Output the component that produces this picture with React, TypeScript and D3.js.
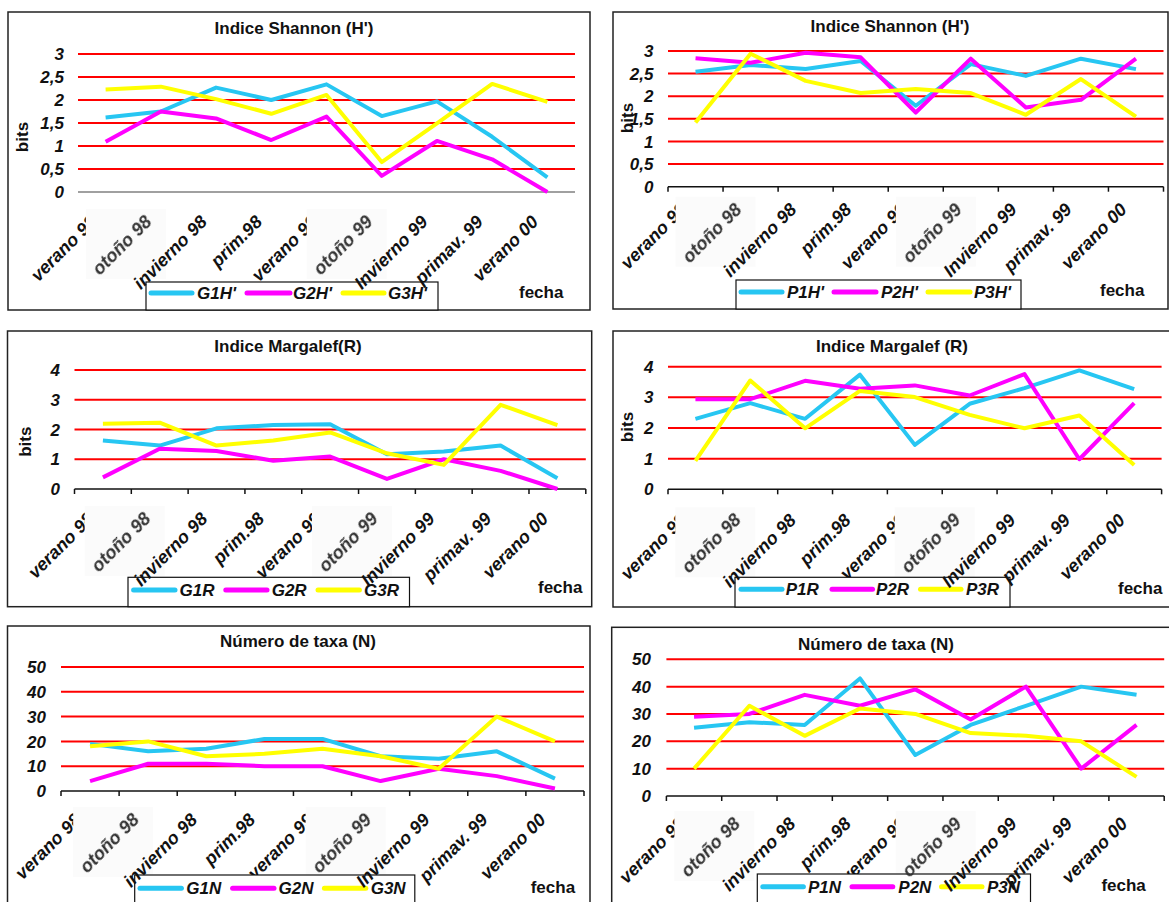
import React from 'react';
import * as d3 from 'd3';

// ---------- data ----------
const categories = ["verano 98", "otoño 98", "invierno 98", "prim.98", "verano 99", "otoño 99", "Invierno 99", "primav. 99", "verano 00"];

const G1H = [1.62, 1.75, 2.27, 2.0, 2.34, 1.65, 1.97, 1.2, 0.32];
const G2H = [1.09, 1.75, 1.6, 1.13, 1.64, 0.35, 1.11, 0.71, 0.0];
const G3H = [2.23, 2.29, 2.02, 1.7, 2.11, 0.65, 1.49, 2.35, 1.96];

const P1H = [2.54, 2.69, 2.6, 2.78, 1.79, 2.71, 2.45, 2.83, 2.6];
const P2H = [2.84, 2.74, 2.96, 2.86, 1.64, 2.83, 1.75, 1.92, 2.83];
const P3H = [1.42, 2.94, 2.34, 2.07, 2.16, 2.07, 1.59, 2.38, 1.55];

const G1R = [1.63, 1.46, 2.04, 2.15, 2.18, 1.17, 1.26, 1.46, 0.36];
const G2R = [0.39, 1.35, 1.28, 0.95, 1.09, 0.34, 1.0, 0.61, 0.0];
const G3R = [2.19, 2.23, 1.46, 1.63, 1.9, 1.2, 0.81, 2.83, 2.15];

const P1R = [2.3, 2.81, 2.3, 3.74, 1.45, 2.79, 3.3, 3.88, 3.27];
const P2R = [2.94, 2.94, 3.54, 3.28, 3.39, 3.06, 3.76, 0.98, 2.81];
const P3R = [0.93, 3.55, 1.99, 3.21, 3.01, 2.43, 1.99, 2.41, 0.79];

const G1N = [19, 16, 17, 21, 21, 14, 13, 16, 5];
const G2N = [4, 11, 11, 10, 10, 4, 9, 6, 1];
const G3N = [18, 20, 14, 15, 17, 14, 9, 30, 20];

const P1N = [25, 27, 26, 43, 15, 26, 33, 40, 37];
const P2N = [29, 30, 37, 33, 39, 28, 40, 10, 26];
const P3N = [10, 33, 22, 32, 30, 23, 22, 20, 7];

const ticksH = [0, 0.5, 1, 1.5, 2, 2.5, 3];
const ticksR = [0, 1, 2, 3, 4];
const ticksN = [0, 10, 20, 30, 40, 50];

// ---------- styles ----------
const CYAN = "#27c6f2";
const MAGENTA = "#ff00ff";
const YELLOW = "#ffff00";
const FONT = "'Liberation Sans', Arial, sans-serif";

type Cfg = {
  box: [number, number, number, number];
  plotX: [number, number];
  y0: number; yTop: number; yMax: number;
  ticks: number[];
  axisTicks: boolean;
  title: string; titleX: number; titleY: number;
  bits?: [number, number];
  tickRight: number;
  legendBox: [number, number, number, number];
  legendY: number;
  legendSamples: [number, number][];
  legendTextX: number[];
  fecha: [number, number];
  labelDy: number;
  series: { name: string; values: number[]; color: string }[];
};

const panels: Cfg[] = [
  {
    box: [8, 12, 590, 310], plotX: [78, 575], y0: 192, yTop: 54, yMax: 3, ticks: ticksH, axisTicks: false,
    title: "Indice Shannon (H')", titleX: 294, titleY: 34, bits: [22, 137], tickRight: 64,
    legendBox: [146, 282, 438, 310], legendY: 293, legendSamples: [[151, 192], [247, 290], [343, 384]], legendTextX: [197, 293, 388],
    fecha: [519, 298], labelDy: 31,
    series: [{ name: "G1H'", values: G1H, color: CYAN }, { name: "G2H'", values: G2H, color: MAGENTA }, { name: "G3H'", values: G3H, color: YELLOW }],
  },
  {
    box: [613, 12, 1168, 309], plotX: [668, 1163.5], y0: 186.7, yTop: 51, yMax: 3, ticks: ticksH, axisTicks: true,
    title: "Indice Shannon (H')", titleX: 890, titleY: 32, bits: [627, 118], tickRight: 653.5,
    legendBox: [736, 280, 1021, 309], legendY: 292, legendSamples: [[741, 782], [834, 876], [928, 970]], legendTextX: [787, 881, 974],
    fecha: [1100, 296], labelDy: 24,
    series: [{ name: "P1H'", values: P1H, color: CYAN }, { name: "P2H'", values: P2H, color: MAGENTA }, { name: "P3H'", values: P3H, color: YELLOW }],
  },
  {
    box: [7.5, 331, 591.7, 606.7], plotX: [74.5, 585.8], y0: 489, yTop: 370, yMax: 4, ticks: ticksR, axisTicks: true,
    title: "Indice Margalef(R)", titleX: 288, titleY: 352, bits: [24.5, 441.7], tickRight: 60,
    legendBox: [128, 577.3, 409.5, 606.7], legendY: 590, legendSamples: [[133.6, 175], [225.8, 267], [318, 359.4]], legendTextX: [179.5, 271.7, 364],
    fecha: [538, 593], labelDy: 31,
    series: [{ name: "G1R", values: G1R, color: CYAN }, { name: "G2R", values: G2R, color: MAGENTA }, { name: "G3R", values: G3R, color: YELLOW }],
  },
  {
    box: [613, 331, 1175, 607], plotX: [668, 1161.6], y0: 489.3, yTop: 366.7, yMax: 4, ticks: ticksR, axisTicks: true,
    title: "Indice Margalef (R)", titleX: 892, titleY: 352, bits: [627, 427], tickRight: 653.5,
    legendBox: [735, 577.3, 1010, 607], legendY: 589.3, legendSamples: [[741, 782], [832, 872.5], [920.5, 961]], legendTextX: [785.7, 876, 966],
    fecha: [1118, 594], labelDy: 32,
    series: [{ name: "P1R", values: P1R, color: CYAN }, { name: "P2R", values: P2R, color: MAGENTA }, { name: "P3R", values: P3R, color: YELLOW }],
  },
  {
    box: [7.5, 626, 590, 910], plotX: [61, 584], y0: 791, yTop: 667, yMax: 50, ticks: ticksN, axisTicks: true,
    title: "Número de taxa (N)", titleX: 298, titleY: 647, tickRight: 46,
    legendBox: [134.7, 875, 414.8, 910], legendY: 888.3, legendSamples: [[140, 181.4], [232.6, 274], [324.4, 365.8]], legendTextX: [186.3, 278.5, 370.7],
    fecha: [530.7, 893], labelDy: 30,
    series: [{ name: "G1N", values: G1N, color: CYAN }, { name: "G2N", values: G2N, color: MAGENTA }, { name: "G3N", values: G3N, color: YELLOW }],
  },
  {
    box: [611.7, 627.3, 1175, 910], plotX: [666.4, 1164.2], y0: 796, yTop: 659.3, yMax: 50, ticks: ticksN, axisTicks: true,
    title: "Número de taxa (N)", titleX: 876, titleY: 649.5, tickRight: 651,
    legendBox: [757.3, 874, 1030.5, 910], legendY: 886.7, legendSamples: [[762.8, 803.4], [852, 892.8], [941.5, 982]], legendTextX: [807.9, 898.3, 987],
    fecha: [1101.4, 890.5], labelDy: 29,
    series: [{ name: "P1N", values: P1N, color: CYAN }, { name: "P2N", values: P2N, color: MAGENTA }, { name: "P3N", values: P3N, color: YELLOW }],
  },
];

const fmt = (v: number) => String(v).replace('.', ',');

function Panel({ c, idx }: { c: Cfg; idx: number }) {
  const x = d3.scalePoint<string>().domain(categories).range(c.plotX).padding(0.5);
  const band = d3.scaleBand<string>().domain(categories).range(c.plotX);
  const y = d3.scaleLinear().domain([0, c.yMax]).range([c.y0, c.yTop]);
  const line = d3.line<number>().x((_, i) => x(categories[i]) as number).y(d => y(d)).curve(d3.curveLinear);
  const [bx0, by0, bx1, by1] = c.box;
  const [lx0, ly0, lx1, ly1] = c.legendBox;
  const boundaries = categories.map(cat => band(cat) as number).concat([c.plotX[1]]);
  const isOtono = (s: string) => s.startsWith("otoño");
  const isVerano = (s: string) => s.startsWith("verano") && s !== "verano 00";
  const labelAnchor = (cat: string) => {
    const cx = x(cat) as number;
    return [cx - 8, c.y0 + c.labelDy];
  };
  const labelText = (cat: string, color: string, blur: boolean) => {
    const [ax, ay] = labelAnchor(cat);
    return (
      <text key={cat} x={ax} y={ay} textAnchor="end" transform={`rotate(-45,${ax},${ay})`}
        fontFamily={FONT} fontWeight="bold" fontStyle="italic" fontSize={18} fill={color}
        filter={blur ? `url(#blur${idx})` : undefined}>{cat}</text>
    );
  };
  return (
    <g>
      <defs>
        <filter id={`blur${idx}`} x="-10%" y="-10%" width="120%" height="120%">
          <feGaussianBlur stdDeviation="0.45" />
        </filter>
      </defs>
      <rect x={bx0} y={by0} width={bx1 - bx0} height={by1 - by0} fill="#fff" stroke="#222" strokeWidth={1.5} />
      <text x={c.titleX} y={c.titleY} textAnchor="middle" fontFamily={FONT} fontWeight="bold" fontSize={17} fill="#111">{c.title}</text>
      {c.ticks.filter(t => t > 0).map(t => (
        <line key={t} x1={c.plotX[0]} x2={c.plotX[1]} y1={y(t)} y2={y(t)} stroke="#ff0000" strokeWidth={2} />
      ))}
      <line x1={c.plotX[0]} x2={c.plotX[1]} y1={c.y0} y2={c.y0} stroke={c.axisTicks ? "#111" : "#808080"} strokeWidth={1.5} />
      {c.axisTicks && boundaries.map((bx, i) => (
        <line key={i} x1={bx} x2={bx} y1={c.y0} y2={c.y0 + 5} stroke="#111" strokeWidth={1.5} />
      ))}
      {c.ticks.map(t => (
        <text key={t} x={c.tickRight} y={y(t)} dy="0.36em" textAnchor="end" fontFamily={FONT} fontWeight="bold" fontStyle="italic" fontSize={17} fill="#111">{fmt(t)}</text>
      ))}
      {c.bits && (
        <text x={c.bits[0]} y={c.bits[1]} dy="0.36em" textAnchor="middle" transform={`rotate(-90,${c.bits[0]},${c.bits[1]})`}
          fontFamily={FONT} fontWeight="bold" fontSize={17} fill="#111">bits</text>
      )}
      {c.series.map(s => (
        <path key={s.name} d={line(s.values) || ""} fill="none" stroke={s.color} strokeWidth={4} strokeLinejoin="round" />
      ))}
      {categories.filter(isVerano).map(cat => labelText(cat, "#111", false))}
      {categories.filter(isOtono).map(cat => {
        const cx = x(cat) as number;
        return <rect key={"bg" + cat} x={cx - 75} y={c.y0 + c.labelDy - 14} width={80} height={70} fill="#fbfbfb" />;
      })}
      <rect x={lx0} y={ly0} width={lx1 - lx0} height={ly1 - ly0} fill="#fff" stroke="#111" strokeWidth={1.2} />
      {c.series.map((s, i) => (
        <g key={"lg" + s.name}>
          <line x1={c.legendSamples[i][0]} x2={c.legendSamples[i][1]} y1={c.legendY} y2={c.legendY} stroke={s.color} strokeWidth={5} strokeLinecap="round" />
          <text x={c.legendTextX[i]} y={c.legendY + 6} fontFamily={FONT} fontWeight="bold" fontStyle="italic" fontSize={17} fill="#111">{s.name}</text>
        </g>
      ))}
      {categories.filter(cat => !isVerano(cat)).map(cat => labelText(cat, isOtono(cat) ? "#333" : "#111", isOtono(cat)))}
      <text x={c.fecha[0]} y={c.fecha[1]} fontFamily={FONT} fontWeight="bold" fontSize={17} fill="#111">fecha</text>
    </g>
  );
}

export default function App() {
  return (
    <svg width={1169} height={902} style={{ position: 'absolute', left: 0, top: 0, background: '#fff' }}>
      <rect x={0} y={0} width={1169} height={902} fill="#fff" />
      {panels.map((c, i) => <Panel key={i} c={c} idx={i} />)}
    </svg>
  );
}
